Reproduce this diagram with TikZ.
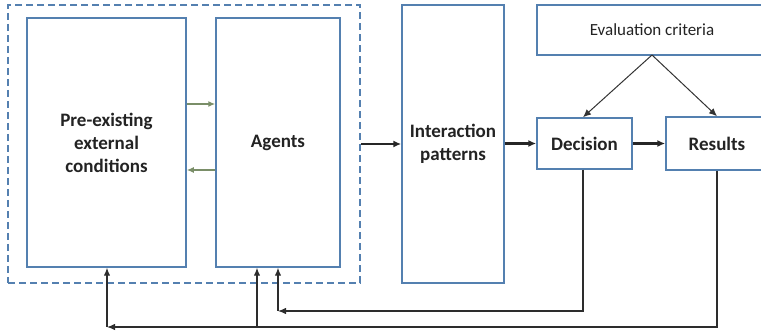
\documentclass[tikz,border=0pt]{standalone}
\usepackage{fontspec}
\setmainfont{Carlito}
\usetikzlibrary{arrows.meta}
\definecolor{boxblue}{RGB}{84,128,176}
\definecolor{txtgray}{RGB}{35,35,35}
\definecolor{greenarr}{RGB}{122,142,104}
\definecolor{lingray}{RGB}{45,45,45}
\tikzset{
  box/.style={draw=boxblue, line width=1.5pt, fill=white, text=txtgray, align=center, inner sep=0pt},
  boldtxt/.style={font=\fontsize{19}{23}\selectfont\bfseries},
  regtxt/.style={font=\fontsize{17}{20}\selectfont},
  mainarr/.style={draw=black!85, line width=2.2pt, -{Latex[length=8pt,width=7pt]}},
  thinarr/.style={draw=black!80, line width=1pt, -{Latex[length=8pt,width=7pt]}},
  fb/.style={draw=lingray, line width=1.2pt},
  fbarr/.style={fb, -{Latex[length=8pt,width=6.5pt]}},
  grarr/.style={draw=greenarr, line width=1.6pt, -{Latex[length=7pt,width=6pt]}},
}
\begin{document}
\begin{tikzpicture}[x=1pt,y=-1pt]
\useasboundingbox (0,0) rectangle (761,331);
\clip (0,0) rectangle (761,331);
\node[draw=boxblue, line width=1.6pt, dash pattern=on 7pt off 4pt, minimum width=352pt, minimum height=278pt, inner sep=0pt] (grp) at (184,144) {};
\node[box, boldtxt, minimum width=159pt, minimum height=249pt] (pre) at (106.5,142.5) {Pre-existing\\external\\conditions};
\node[box, boldtxt, minimum width=124pt, minimum height=249pt] (agents) at (278,142.5) {Agents};
\node[box, boldtxt, minimum width=102pt, minimum height=278pt] (inter) at (453,144) {Interaction\\patterns};
\node[box, regtxt, minimum width=230pt, minimum height=50pt] (eval) at (652,30) {Evaluation criteria};
\node[box, boldtxt, minimum width=95pt, minimum height=51pt] (dec) at (584.5,143.5) {Decision};
\node[box, boldtxt, minimum width=102pt, minimum height=53pt] (res) at (717,143.5) {Results};
% green arrows
\draw[grarr] ([yshift=38.5pt]pre.east) -- ([yshift=38.5pt]agents.west);
\draw[grarr] ([yshift=-27.5pt]agents.west) -- ([yshift=-27.5pt]pre.east);
% main flow
\draw[mainarr] (grp.east |- inter.west) -- (inter.west);
\draw[mainarr] (inter.east |- dec.west) -- (dec.west);
\draw[mainarr] (dec.east) -- (res.west |- dec.east);
% evaluation
\coordinate (ev) at (652,55);
\draw[thinarr] (ev) -- ([xshift=-1.5pt]dec.north);
\draw[thinarr] (ev) -- (res.north);
% feedback
\coordinate (c1) at (278,311);
\coordinate (c2) at (107,327);
\coordinate (c3) at (257,327);
\draw[fbarr] (dec.south -| 583,0) |- (c1);
\draw[fbarr] (c1) -- (agents.south -| c1);
\draw[fbarr] (res.south) |- (c2);
\draw[fbarr] (c2) -- (pre.south -| c2);
\draw[fbarr] (c3) -- (agents.south -| c3);
\end{tikzpicture}
\end{document}
